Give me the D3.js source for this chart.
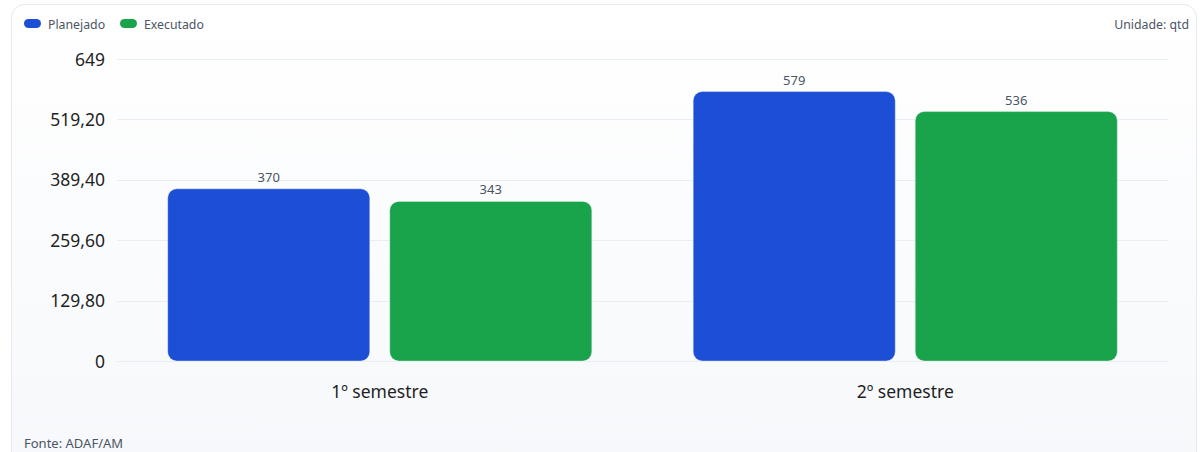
<!DOCTYPE html>
<html><head><meta charset="utf-8">
<script src="https://cdn.jsdelivr.net/npm/d3@7"></script>
<style>
html,body{margin:0;padding:0;background:#fff;}
svg{display:block;font-family:"Noto Sans","Open Sans",sans-serif;}
</style></head>
<body>
<svg id="chart" width="1203" height="452"></svg>
<script>
const categories = ["1º semestre", "2º semestre"];
const seriesNames = ["Planejado", "Executado"];
const planejado = [370, 579];
const executado = [343, 536];
const yTicks = [0, 129.8, 259.6, 389.4, 519.2, 649];
const yTickLabels = ["0", "129,80", "259,60", "389,40", "519,20", "649"];
const colors = ["#1d4fd6", "#19a34b"];

(function () {
const svg = d3.select("#chart");
const defs = svg.append("defs");
const grad = defs.append("linearGradient").attr("id","bg").attr("x1",0).attr("y1",0).attr("x2",0).attr("y2",1);
grad.append("stop").attr("offset","0%").attr("stop-color","#ffffff");
grad.append("stop").attr("offset","100%").attr("stop-color","#f6f8fb");

svg.append("rect").attr("x",11.5).attr("y",4.5).attr("width",1185).attr("height",470)
  .attr("rx",13).attr("fill","url(#bg)").attr("stroke","#e6e9ef").attr("stroke-width",1);

const pLeft = 117, pRight = 1168, pTop = 59, pBottom = 361;
const y = d3.scaleLinear().domain([0, 649]).range([pBottom, pTop]);
const x0 = d3.scaleBand().domain(categories).range([pLeft, pRight]).paddingInner(0.193).paddingOuter(0.0965);
const x1 = d3.scaleBand().domain(seriesNames).range([0, x0.bandwidth()]).paddingInner(0.09).paddingOuter(0);

// grid
svg.append("g").selectAll("line").data(yTicks).join("line")
  .attr("x1", pLeft).attr("x2", pRight)
  .attr("y1", d => Math.round(y(d)) + 0.5).attr("y2", d => Math.round(y(d)) + 0.5)
  .attr("stroke", "#e9edf4").attr("stroke-width", 1);

// y axis labels
const yAxis = d3.axisLeft(y).tickValues(yTicks).tickSize(0).tickPadding(0)
  .tickFormat((d, i) => yTickLabels[i]);
const gy = svg.append("g").attr("transform", `translate(105,0)`).call(yAxis);
gy.select(".domain").remove();
gy.selectAll("text").attr("font-size", 17.5).attr("fill", "#1f1f1f")
  .attr("font-family", "\"Noto Sans\",sans-serif").attr("dy", "0.35em");

// bars
const data = categories.map((c, i) => ({cat: c, vals: [planejado[i], executado[i]]}));
const groups = svg.append("g").selectAll("g").data(data).join("g")
  .attr("transform", d => `translate(${x0(d.cat)},0)`);
groups.selectAll("rect").data(d => d.vals.map((v, j) => ({name: seriesNames[j], v, j}))).join("rect")
  .attr("x", d => x1(d.name)).attr("width", x1.bandwidth())
  .attr("y", d => y(d.v)).attr("height", d => y(0) - y(d.v))
  .attr("rx", 9).attr("fill", d => colors[d.j])
  .attr("stroke", "rgba(255,255,255,0.35)").attr("stroke-width", 1);
groups.selectAll("text").data(d => d.vals.map((v, j) => ({name: seriesNames[j], v, j}))).join("text")
  .attr("x", d => x1(d.name) + x1.bandwidth() / 2).attr("y", d => y(d.v) - 7)
  .attr("text-anchor", "middle").attr("font-size", 13).attr("fill", "#4b5563")
  .text(d => d.v);

// x axis labels
const xAxis = d3.axisBottom(x0).tickSize(0).tickPadding(0);
const gx = svg.append("g").attr("transform", `translate(0,${pBottom})`).call(xAxis);
gx.select(".domain").remove();
gx.selectAll("text").attr("font-size", 17.5).attr("fill", "#1f1f1f")
  .attr("font-family", "\"Noto Sans\",sans-serif").attr("dy", 0).attr("y", 37);

// legend
const leg = svg.append("g");
const legX = [24, 120];
seriesNames.forEach((n, i) => {
  leg.append("rect").attr("x", legX[i]).attr("y", 19).attr("width", 17).attr("height", 9)
    .attr("rx", 4.5).attr("fill", colors[i]);
  leg.append("text").attr("x", legX[i] + 24).attr("y", 29).attr("font-size", 12.3)
    .attr("fill", "#4b5563").text(n);
});
svg.append("text").attr("x", 1189).attr("y", 29).attr("text-anchor", "end")
  .attr("font-size", 12.3).attr("fill", "#4b5563").text("Unidade: qtd");
svg.append("text").attr("x", 24).attr("y", 448).attr("font-size", 13)
  .attr("fill", "#4b5563").text("Fonte: ADAF/AM");
})();
</script>
</body></html>
